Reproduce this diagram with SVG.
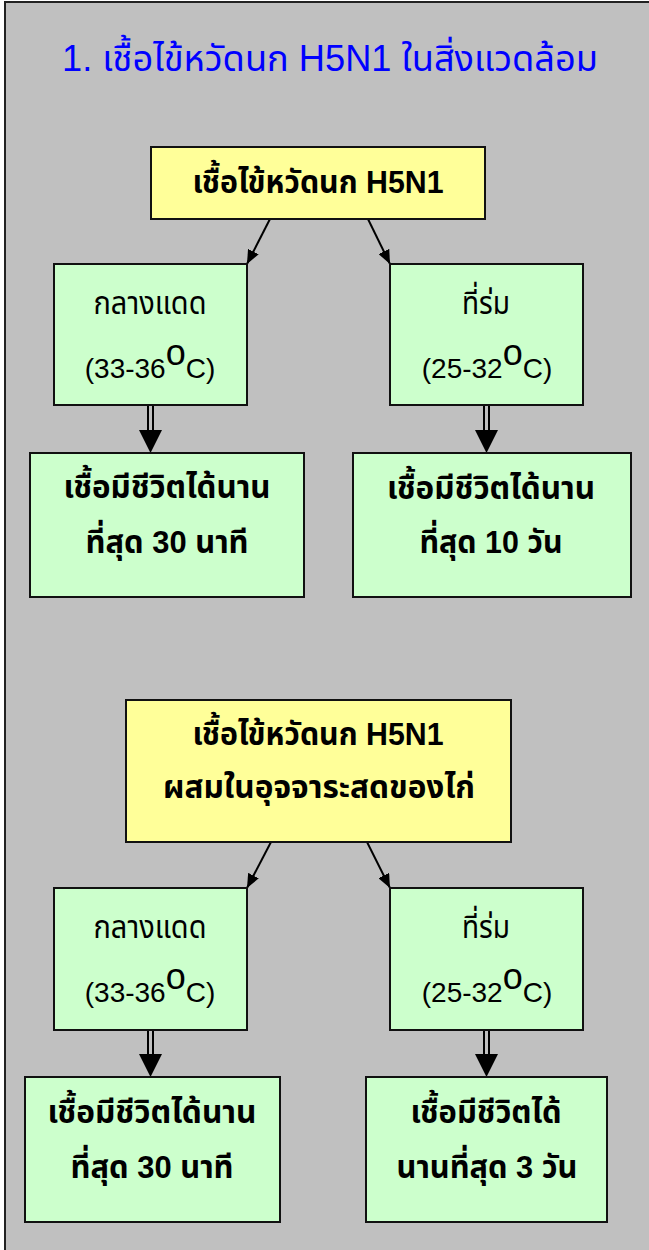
<svg xmlns="http://www.w3.org/2000/svg" width="649" height="1250" viewBox="0 0 649 1250">
<style>
.frame{fill:#C0C0C0;stroke:#222;stroke-width:2}
.y{fill:#FFFF99;stroke:#111;stroke-width:2}
.g{fill:#CCFFCC;stroke:#111;stroke-width:2}
text{font-family:"Liberation Sans","Noto Sans Thai","Noto Sans",sans-serif;text-anchor:middle;fill:#000}
.title{font-size:36px;fill:#0000FF}
.b{font-size:32px;font-weight:bold}
.n{font-size:28px}
.t{font-size:32px}
.deg{font-size:36px}
.ln{stroke:#000;stroke-width:2;fill:none}
.dl{stroke:#000;stroke-width:2}
.hd{fill:#000}
</style>
<defs>
<marker id="ah" viewBox="0 0 14 12" refX="14" refY="6" markerWidth="14" markerHeight="12" markerUnits="userSpaceOnUse" orient="auto">
<path d="M0,0 L14,6 L0,12 Z" fill="#000"/>
</marker>
</defs>
<rect x="0" y="0" width="649" height="1250" fill="#FFFFFF"/>
<rect class="frame" x="5" y="2" width="700" height="1300"/>
<g id="title"><text class="title" x="330" y="71" textLength="536" lengthAdjust="spacingAndGlyphs">1. เชื้อไข้หวัดนก H5N1 ในสิ่งแวดล้อม</text></g>

<g id="connectors">
<line class="ln" x1="271" y1="217" x2="247" y2="264" marker-end="url(#ah)"/>
<line class="ln" x1="367" y1="217" x2="390" y2="264" marker-end="url(#ah)"/>
<line class="dl" x1="148" y1="405" x2="148" y2="431"/><line class="dl" x1="153" y1="405" x2="153" y2="431"/>
<path class="hd" d="M139,430 L162,430 L150.5,453 Z"/>
<line class="dl" x1="484" y1="405" x2="484" y2="431"/><line class="dl" x1="489" y1="405" x2="489" y2="431"/>
<path class="hd" d="M475,430 L498,430 L486.5,453 Z"/>
<line class="ln" x1="271" y1="842" x2="247" y2="888" marker-end="url(#ah)"/>
<line class="ln" x1="367" y1="842" x2="390" y2="888" marker-end="url(#ah)"/>
<line class="dl" x1="148" y1="1030" x2="148" y2="1055"/><line class="dl" x1="153" y1="1030" x2="153" y2="1055"/>
<path class="hd" d="M139,1054 L162,1054 L150.5,1077 Z"/>
<line class="dl" x1="484" y1="1030" x2="484" y2="1055"/><line class="dl" x1="489" y1="1030" x2="489" y2="1055"/>
<path class="hd" d="M475,1054 L498,1054 L486.5,1077 Z"/>
</g>

<g id="virus1">
<rect class="y" x="151" y="147" width="334" height="72"/>
<text class="b" x="318" y="193" textLength="251" lengthAdjust="spacingAndGlyphs">เชื้อไข้หวัดนก H5N1</text>
</g>
<g id="sun1">
<rect class="g" x="54" y="264" width="193" height="141"/>
<text class="t" x="150" y="314" textLength="113" lengthAdjust="spacingAndGlyphs">กลางแดด</text>
<text class="n" x="150" y="378">(33-36<tspan class="deg" dy="-13">o</tspan><tspan dy="13">C)</tspan></text>
</g>
<g id="shade1">
<rect class="g" x="390" y="264" width="193" height="141"/>
<text class="t" x="486" y="314" textLength="48" lengthAdjust="spacingAndGlyphs">ที่ร่ม</text>
<text class="n" x="487" y="378">(25-32<tspan class="deg" dy="-13">o</tspan><tspan dy="13">C)</tspan></text>
</g>
<g id="result1a">
<rect class="g" x="30" y="453" width="274" height="144"/>
<text class="b" x="167" y="498" textLength="207" lengthAdjust="spacingAndGlyphs">เชื้อมีชีวิตได้นาน</text>
<text class="b" x="167" y="553" textLength="163" lengthAdjust="spacingAndGlyphs">ที่สุด 30 นาที</text>
</g>
<g id="result1b">
<rect class="g" x="353" y="453" width="278" height="144"/>
<text class="b" x="491" y="499" textLength="208" lengthAdjust="spacingAndGlyphs">เชื้อมีชีวิตได้นาน</text>
<text class="b" x="491" y="553" textLength="143" lengthAdjust="spacingAndGlyphs">ที่สุด 10 วัน</text>
</g>

<g id="virus2">
<rect class="y" x="126" y="700" width="385" height="142"/>
<text class="b" x="318" y="745" textLength="251" lengthAdjust="spacingAndGlyphs">เชื้อไข้หวัดนก H5N1</text>
<text class="b" x="319" y="798" textLength="312" lengthAdjust="spacingAndGlyphs">ผสมในอุจจาระสดของไก่</text>
</g>
<g id="sun2">
<rect class="g" x="54" y="888" width="193" height="142"/>
<text class="t" x="150" y="938" textLength="113" lengthAdjust="spacingAndGlyphs">กลางแดด</text>
<text class="n" x="150" y="1002">(33-36<tspan class="deg" dy="-13">o</tspan><tspan dy="13">C)</tspan></text>
</g>
<g id="shade2">
<rect class="g" x="390" y="888" width="193" height="142"/>
<text class="t" x="486" y="938" textLength="48" lengthAdjust="spacingAndGlyphs">ที่ร่ม</text>
<text class="n" x="487" y="1002">(25-32<tspan class="deg" dy="-13">o</tspan><tspan dy="13">C)</tspan></text>
</g>
<g id="result2a">
<rect class="g" x="25" y="1077" width="255" height="145"/>
<text class="b" x="152" y="1123" textLength="209" lengthAdjust="spacingAndGlyphs">เชื้อมีชีวิตได้นาน</text>
<text class="b" x="152" y="1178" textLength="163" lengthAdjust="spacingAndGlyphs">ที่สุด 30 นาที</text>
</g>
<g id="result2b">
<rect class="g" x="366" y="1077" width="241" height="145"/>
<text class="b" x="486" y="1123" textLength="151" lengthAdjust="spacingAndGlyphs">เชื้อมีชีวิตได้</text>
<text class="b" x="487" y="1178" textLength="181" lengthAdjust="spacingAndGlyphs">นานที่สุด 3 วัน</text>
</g>
</svg>
